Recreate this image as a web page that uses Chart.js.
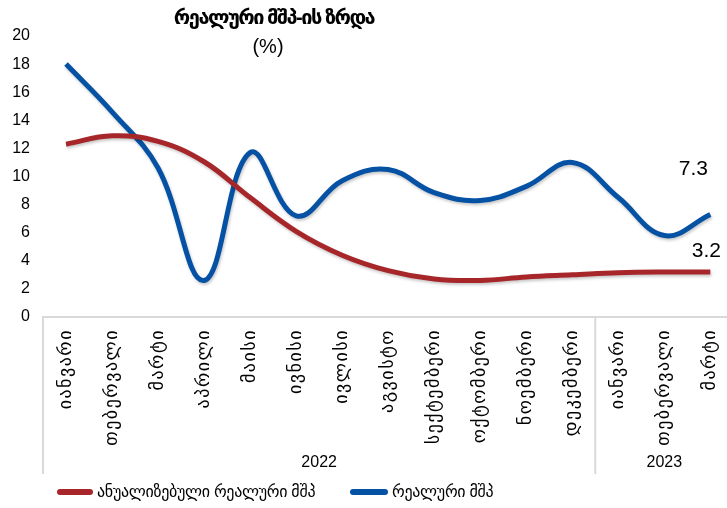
<!DOCTYPE html>
<html>
<head>
<meta charset="utf-8">
<script src="https://cdn.jsdelivr.net/npm/chart.js@4.4.0/dist/chart.umd.min.js"></script>
<style>
  html, body { margin: 0; padding: 0; background: #fff; overflow: hidden; }
  #wrap { position: relative; width: 727px; height: 508px; overflow: hidden; }
  #line-chart { position: absolute; left: 0; top: 0; }
  .txt { position: absolute; font-family: "Liberation Sans", "DejaVu Sans", sans-serif; color: #000; white-space: nowrap; }
  #title { left: 124px; width: 300px; top: 5px; text-align: center; font-size: 20px; font-weight: bold; letter-spacing: -1.5px; }
  #unit { left: 218px; width: 100px; top: 35px; text-align: center; font-size: 20px; }
  .sw { position: absolute; height: 6px; border-radius: 3px; top: 489px; }
  .leg { top: 482px; font-size: 16px; letter-spacing: -0.3px; }
</style>
</head>
<body>
<div id="wrap">
  <canvas id="line-chart" width="744" height="508"></canvas>
  <div id="title" class="txt">რეალური მშპ-ის ზრდა</div>
  <div id="unit" class="txt">(%)</div>
  <div class="sw" style="left:57px; width:36px; background:#a6262a;"></div>
  <div class="txt leg" style="left:97px;">ანუალიზებული რეალური მშპ</div>
  <div class="sw" style="left:350px; width:38px; background:#0552a5;"></div>
  <div class="txt leg" style="left:392px;">რეალური მშპ</div>
</div>
<script>
// 데이터
const months = ['იანვარი', 'თებერვალი', 'მარტი', 'აპრილი', 'მაისი', 'ივნისი', 'ივლისი', 'აგვისტო',
  'სექტემბერი', 'ოქტომბერი', 'ნოემბერი', 'დეკემბერი', 'იანვარი', 'თებერვალი', 'მარტი'];
const years = ['2022', '2023'];
const yearCounts = [12, 3];
const label = ['ანუალიზებული რეალური მშპ', 'რეალური მშპ'];
const annualized = [12.3, 12.9, 12.5, 11.05, 8.5, 6.1, 4.4, 3.3, 2.7, 2.6, 2.85, 3.0, 3.15, 3.2, 3.2];
const realGdp = [18.0, 14.6, 10.6, 2.6, 11.7, 7.2, 9.7, 10.5, 8.85, 8.3, 9.3, 11.0, 8.5, 5.8, 7.3];
const yTicks = [0, 2, 4, 6, 8, 10, 12, 14, 16, 18, 20];

const fontStack = '"Liberation Sans", "DejaVu Sans", sans-serif';

// 선 그림자
const shadow = {
  id: 'shadow',
  beforeDatasetDraw(chart) {
    const ctx = chart.ctx;
    ctx.save();
    ctx.shadowColor = 'rgba(0,0,0,0.22)';
    ctx.shadowBlur = 3;
    ctx.shadowOffsetX = 1;
    ctx.shadowOffsetY = 2;
  },
  afterDatasetDraw(chart) {
    chart.ctx.restore();
  }
};

// 연도 구분선 + 연도 라벨
const yearGroups = {
  id: 'yearGroups',
  afterDraw(chart) {
    const x = chart.scales.x, ctx = chart.ctx;
    const top = chart.chartArea.bottom - 1, bottom = 474;
    let count = 0;
    let edges = [x.left];
    yearCounts.forEach(n => {
      count += n;
      if (count < months.length) {
        edges.push((x.getPixelForValue(count - 1) + x.getPixelForValue(count)) / 2);
      } else {
        edges.push(x.right);
      }
    });
    ctx.save();
    ctx.letterSpacing = '0px';
    ctx.strokeStyle = '#d9d9d9';
    ctx.lineWidth = 2;
    edges.forEach(px => {
      ctx.beginPath();
      ctx.moveTo(px, top);
      ctx.lineTo(px, bottom);
      ctx.stroke();
    });
    ctx.fillStyle = '#000';
    ctx.font = '16px ' + fontStack;
    ctx.textAlign = 'center';
    ctx.textBaseline = 'middle';
    years.forEach((y, i) => ctx.fillText(y, (edges[i] + edges[i + 1]) / 2, 463));
    ctx.restore();
  }
};

// 마지막 값 라벨
const endLabels = {
  id: 'endLabels',
  afterDatasetsDraw(chart) {
    const ctx = chart.ctx;
    ctx.save();
    ctx.fillStyle = '#000';
    ctx.font = '21px ' + fontStack;
    ctx.textAlign = 'center';
    ctx.textBaseline = 'middle';
    chart.data.datasets.forEach((ds, i) => {
      const meta = chart.getDatasetMeta(i);
      const last = meta.data[meta.data.length - 1];
      const v = ds.data[ds.data.length - 1];
      ctx.fillText(v.toFixed(1), last.x + ds.labelDx, last.y + ds.labelDy);
    });
    ctx.restore();
  }
};

// 월 라벨 자간 (x 눈금은 z:1 이라 데이터 다음에 그려짐)
const monthSpacing = {
  id: 'monthSpacing',
  afterDatasetsDraw(chart) {
    chart.ctx.letterSpacing = '1.5px';
  },
  afterDraw(chart) {
    chart.ctx.letterSpacing = '0px';
  }
};

let myChart = new Chart(document.getElementById('line-chart').getContext('2d'), {
  type: 'line',
  data: {
    labels: months,
    datasets: [
      {
        label: label[0],
        data: annualized,
        borderColor: '#a6262a',
        borderWidth: 5,
        tension: 0.4,
        pointRadius: 0,
        labelDx: -4,
        labelDy: -21
      },
      {
        label: label[1],
        data: realGdp,
        borderColor: '#0552a5',
        borderWidth: 5,
        tension: 0.4,
        pointRadius: 0,
        labelDx: -17,
        labelDy: -45
      }
    ]
  },
  options: {
    responsive: false,
    animation: false,
    layout: { padding: { top: 36, right: 2, left: 0, bottom: 0 } },
    plugins: {
      legend: { display: false },
      tooltip: { enabled: false }
    },
    scales: {
      x: {
        offset: true,
        grid: { display: false, drawTicks: false },
        border: { display: true, color: '#d9d9d9', width: 2 },
        ticks: {
          z: 1,
          minRotation: 90,
          maxRotation: 90,
          autoSkip: false,
          padding: 12,
          color: '#000',
          font: { family: fontStack, size: 18 }
        },
        afterFit(scale) { scale.height = 191; }
      },
      y: {
        min: 0,
        max: 20,
        grid: { display: false, drawTicks: false },
        border: { display: false },
        afterBuildTicks(scale) { scale.ticks = yTicks.map(v => ({ value: v })); },
        ticks: {
          padding: 13,
          color: '#000',
          font: { family: fontStack, size: 16 }
        },
        afterFit(scale) { scale.width = 43; }
      }
    }
  },
  plugins: [shadow, yearGroups, endLabels, monthSpacing]
});
</script>
</body>
</html>
